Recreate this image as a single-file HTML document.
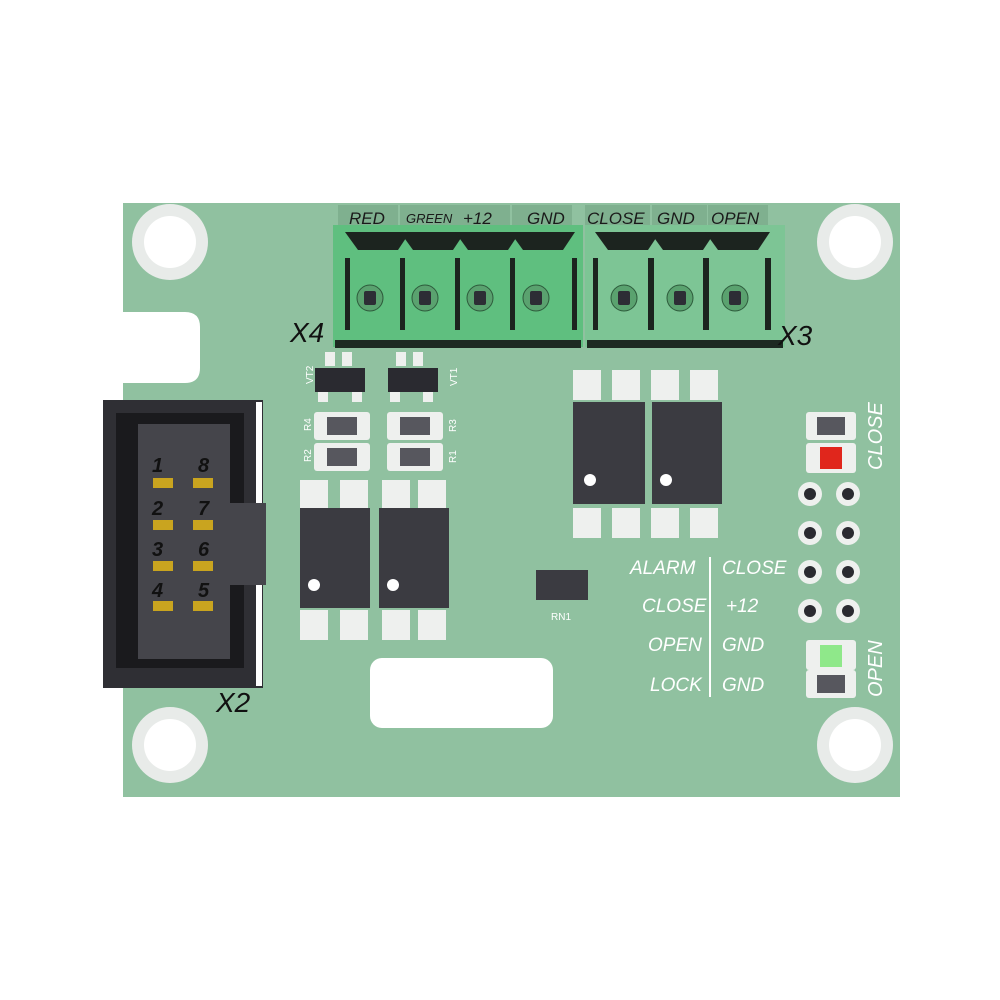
<!DOCTYPE html>
<html><head><style>body{margin:0;background:#fff}svg{display:block}</style></head><body>
<svg width="1000" height="1000" viewBox="0 0 1000 1000" xmlns="http://www.w3.org/2000/svg" font-family="Liberation Sans, sans-serif">
<rect width="1000" height="1000" fill="#fff"/>
<rect x="123" y="203" width="777" height="594" fill="#90c1a0"/>
<path d="M123 312 H185 Q200 312 200 327 V368 Q200 383 185 383 H123Z" fill="#fff"/>
<g fill="#e8ebe9"><circle cx="170" cy="242" r="38"/><circle cx="855" cy="242" r="38"/><circle cx="170" cy="745" r="38"/><circle cx="855" cy="745" r="38"/></g>
<g fill="#fff"><circle cx="170" cy="242" r="26"/><circle cx="855" cy="242" r="26"/><circle cx="170" cy="745" r="26"/><circle cx="855" cy="745" r="26"/></g>
<rect x="370" y="658" width="183" height="70" rx="12" fill="#fff"/>
<!-- silk label tabs -->
<g fill="#7fb08f"><rect x="338" y="205" width="60" height="22"/><rect x="400" y="205" width="55" height="22"/><rect x="455" y="205" width="55" height="22"/><rect x="512" y="205" width="60" height="22"/><rect x="585" y="205" width="65" height="22"/><rect x="652" y="205" width="55" height="22"/><rect x="708" y="205" width="60" height="22"/></g>
<g font-style="italic" fill="#1a1a1a" font-size="17"><text x="349" y="224">RED</text><text x="406" y="223" font-size="13">GREEN</text><text x="463" y="224">+12</text><text x="527" y="224">GND</text><text x="587" y="224">CLOSE</text><text x="657" y="224">GND</text><text x="711" y="224">OPEN</text></g>
<!-- X4 -->
<rect x="333" y="225" width="250" height="122" fill="#5fbf7f"/>
<rect x="335" y="340" width="246" height="8" fill="#1d2a22"/>
<!-- X3 -->
<rect x="585" y="225" width="200" height="122" fill="#7dc595"/>
<rect x="587" y="340" width="196" height="8" fill="#1d2a22"/>
<g fill="#1c241f">
<path d="M345 232h65l-12 18h-40z"/><path d="M400 232h65l-12 18h-40z"/><path d="M455 232h65l-12 18h-40z"/><path d="M510 232h65l-12 18h-40z"/>
<path d="M595 232h65l-12 18h-40z"/><path d="M650 232h65l-12 18h-40z"/><path d="M705 232h65l-12 18h-40z"/>
<rect x="345" y="258" width="5" height="72"/><rect x="400" y="258" width="5" height="72"/><rect x="455" y="258" width="5" height="72"/><rect x="510" y="258" width="5" height="72"/><rect x="572" y="258" width="5" height="72"/>
<rect x="593" y="258" width="5" height="72"/><rect x="648" y="258" width="6" height="72"/><rect x="703" y="258" width="6" height="72"/><rect x="765" y="258" width="6" height="72"/>
</g>
<g fill="#5aa26f" stroke="#2d5a3b"><circle cx="370" cy="298" r="13"/><circle cx="425" cy="298" r="13"/><circle cx="480" cy="298" r="13"/><circle cx="536" cy="298" r="13"/><circle cx="624" cy="298" r="13"/><circle cx="680" cy="298" r="13"/><circle cx="735" cy="298" r="13"/></g>
<g fill="#2d2d35"><rect x="364" y="291" width="12" height="14" rx="2"/><rect x="419" y="291" width="12" height="14" rx="2"/><rect x="474" y="291" width="12" height="14" rx="2"/><rect x="530" y="291" width="12" height="14" rx="2"/><rect x="618" y="291" width="12" height="14" rx="2"/><rect x="674" y="291" width="12" height="14" rx="2"/><rect x="729" y="291" width="12" height="14" rx="2"/></g>
<g font-style="italic" font-size="28" fill="#111"><text x="290" y="342">X4</text><text x="778" y="345">X3</text><text x="216" y="712">X2</text></g>
<!-- X2 header -->
<rect x="103" y="400" width="160" height="288" fill="#2f2f34"/>
<rect x="256" y="402" width="6" height="284" fill="#fff"/>
<rect x="116" y="413" width="128" height="255" fill="#1a1a1d"/>
<rect x="138" y="424" width="92" height="235" fill="#45454b"/>
<rect x="230" y="503" width="36" height="82" fill="#45454b"/>
<g font-style="italic" font-weight="bold" font-size="20" fill="#111"><text x="152" y="472">1</text><text x="198" y="472">8</text><text x="152" y="515">2</text><text x="198" y="515">7</text><text x="152" y="556">3</text><text x="198" y="556">6</text><text x="152" y="597">4</text><text x="198" y="597">5</text></g>
<g fill="#c9a41f"><rect x="153" y="478" width="20" height="10"/><rect x="193" y="478" width="20" height="10"/><rect x="153" y="520" width="20" height="10"/><rect x="193" y="520" width="20" height="10"/><rect x="153" y="561" width="20" height="10"/><rect x="193" y="561" width="20" height="10"/><rect x="153" y="601" width="20" height="10"/><rect x="193" y="601" width="20" height="10"/></g>
<!-- transistors -->
<g fill="#eef0ee"><rect x="325" y="352" width="10" height="14"/><rect x="342" y="352" width="10" height="14"/><rect x="396" y="352" width="10" height="14"/><rect x="413" y="352" width="10" height="14"/><rect x="318" y="390" width="10" height="12"/><rect x="352" y="390" width="10" height="12"/><rect x="390" y="390" width="10" height="12"/><rect x="423" y="390" width="10" height="12"/></g>
<rect x="315" y="368" width="50" height="24" fill="#2a2a30"/><rect x="388" y="368" width="50" height="24" fill="#2a2a30"/>
<!-- resistors -->
<g fill="#eef0ee"><rect x="314" y="412" width="56" height="28" rx="3"/><rect x="314" y="443" width="56" height="28" rx="3"/><rect x="387" y="412" width="56" height="28" rx="3"/><rect x="387" y="443" width="56" height="28" rx="3"/><rect x="806" y="412" width="50" height="28" rx="3"/><rect x="806" y="443" width="50" height="30" rx="3"/><rect x="806" y="640" width="50" height="30" rx="3"/><rect x="806" y="670" width="50" height="28" rx="3"/></g>
<g fill="#57575e"><rect x="327" y="417" width="30" height="18"/><rect x="327" y="448" width="30" height="18"/><rect x="400" y="417" width="30" height="18"/><rect x="400" y="448" width="30" height="18"/><rect x="817" y="417" width="28" height="18"/><rect x="817" y="675" width="28" height="18"/></g>
<rect x="820" y="447" width="22" height="22" fill="#e0261c"/><rect x="820" y="645" width="22" height="22" fill="#8fe88a"/>
<g font-size="10" fill="#fff"><text x="300" y="432" transform="rotate(-90 305 426)">R4</text><text x="300" y="463" transform="rotate(-90 305 457)">R2</text><text x="444" y="432" transform="rotate(-90 450 426)">R3</text><text x="444" y="463" transform="rotate(-90 450 457)">R1</text><text x="300" y="385" transform="rotate(-90 306 378)">VT2</text><text x="442" y="385" transform="rotate(-90 450 378)">VT1</text></g>
<!-- optos -->
<g fill="#eef0ee">
<rect x="300" y="480" width="28" height="30"/><rect x="340" y="480" width="28" height="30"/><rect x="382" y="480" width="28" height="30"/><rect x="418" y="480" width="28" height="30"/>
<rect x="300" y="610" width="28" height="30"/><rect x="340" y="610" width="28" height="30"/><rect x="382" y="610" width="28" height="30"/><rect x="418" y="610" width="28" height="30"/>
<rect x="573" y="370" width="28" height="30"/><rect x="612" y="370" width="28" height="30"/><rect x="651" y="370" width="28" height="30"/><rect x="690" y="370" width="28" height="30"/>
<rect x="573" y="508" width="28" height="30"/><rect x="612" y="508" width="28" height="30"/><rect x="651" y="508" width="28" height="30"/><rect x="690" y="508" width="28" height="30"/>
</g>
<g fill="#3b3b41"><rect x="300" y="508" width="70" height="100"/><rect x="379" y="508" width="70" height="100"/><rect x="573" y="402" width="72" height="102"/><rect x="652" y="402" width="70" height="102"/></g>
<g fill="#fff"><circle cx="314" cy="585" r="6"/><circle cx="393" cy="585" r="6"/><circle cx="590" cy="480" r="6"/><circle cx="666" cy="480" r="6"/></g>
<!-- RN1 -->
<rect x="536" y="570" width="52" height="30" fill="#3b3b41"/>
<text x="551" y="620" font-size="10" fill="#fff">RN1</text>
<!-- pin holes -->
<g fill="#eef0ee"><circle cx="810" cy="494" r="12"/><circle cx="848" cy="494" r="12"/><circle cx="810" cy="533" r="12"/><circle cx="848" cy="533" r="12"/><circle cx="810" cy="572" r="12"/><circle cx="848" cy="572" r="12"/><circle cx="810" cy="611" r="12"/><circle cx="848" cy="611" r="12"/></g>
<g fill="#2a2a30"><circle cx="810" cy="494" r="6"/><circle cx="848" cy="494" r="6"/><circle cx="810" cy="533" r="6"/><circle cx="848" cy="533" r="6"/><circle cx="810" cy="572" r="6"/><circle cx="848" cy="572" r="6"/><circle cx="810" cy="611" r="6"/><circle cx="848" cy="611" r="6"/></g>
<g font-style="italic" font-size="19" fill="#fff"><text x="630" y="574">ALARM</text><text x="722" y="574">CLOSE</text><text x="642" y="612">CLOSE</text><text x="726" y="612">+12</text><text x="648" y="651">OPEN</text><text x="722" y="651">GND</text><text x="650" y="691">LOCK</text><text x="722" y="691">GND</text></g>
<rect x="709" y="557" width="2" height="140" fill="#fff"/>
<g font-style="italic" font-size="20" fill="#fff"><text x="0" y="0" transform="translate(882 470) rotate(-90)">CLOSE</text><text x="0" y="0" transform="translate(882 697) rotate(-90)">OPEN</text></g>
</svg>
</body></html>
